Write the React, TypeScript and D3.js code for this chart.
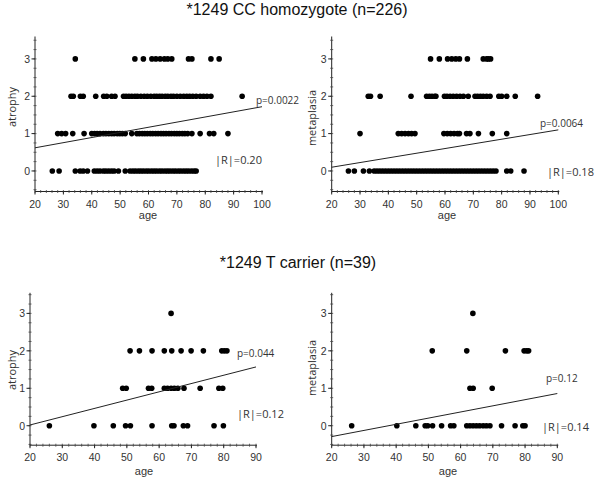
import React from "react";
import * as d3 from "d3";

// ---- Data (ages, grouped by score level) ----
const titles = ["*1249 CC homozygote (n=226)", "*1249 T carrier (n=39)"];

// Top-left: CC homozygote, atrophy
const ccAtrophy3 = [34.2, 55.2, 58.2, 61.2, 62.6, 64.1, 65.6, 66.8, 68.2, 74.1, 75.3, 82, 84.9];
const ccAtrophy2 = [32.7, 33.5, 36, 37, 41.4, 44.2, 45.3, 47, 48.2, 51.2, 52.1, 53.1, 54.1, 55.2, 56.1, 57.3, 58.5, 59.6, 60.8, 62, 62.9, 63.9, 64.8, 65.9, 66.8, 67.9, 68.8, 70, 71.2, 72.4, 73.5, 74.5, 75.6, 76.8, 78.2, 79.4, 80.6, 82, 93];
const ccAtrophy1 = [28, 29.4, 30.8, 33.3, 37.3, 40, 41, 41.9, 42.9, 44.1, 45, 46, 47, 47.9, 49, 49.9, 50.8, 51.8, 54.1, 55.9, 56.8, 57.8, 58.7, 59.6, 60.6, 61.5, 62.5, 63.4, 64.4, 65.3, 66.2, 67.2, 68.1, 69.1, 70, 70.9, 71.9, 72.8, 73.8, 75.3, 78.2, 81.5, 83, 88];
const ccAtrophy0 = [26.1, 28.5, 34.2, 35.9, 37, 38.5, 40.9, 41.9, 42.9, 44.1, 45, 46, 47, 47.9, 49.4, 51.8, 53.5, 54.5, 55.4, 56.4, 57.3, 58.2, 59.2, 60.1, 61.1, 62, 62.9, 63.9, 64.8, 65.8, 66.7, 67.6, 68.6, 69.5, 70.5, 71.4, 72.4, 73.3, 74.2, 75.2, 76.1, 76.8];

// Top-right: CC homozygote, metaplasia
const ccMeta3 = [54.9, 58, 60.9, 62.4, 63.8, 65.1, 67.9, 73.5, 74.7, 75.3, 76.1];
const ccMeta2 = [32.9, 33.7, 37.1, 48, 53.5, 54.5, 55.4, 56.4, 56.8, 59.8, 60.7, 61.8, 62.9, 64.1, 65.3, 66.5, 68.2, 70.6, 71.5, 72.5, 73.5, 74.7, 75.9, 79, 80, 81.8, 84.8, 92.7];
const ccMeta1 = [30, 43.5, 44.7, 45.9, 47.1, 48.2, 49.4, 59.6, 60.8, 62, 63.2, 64.4, 65.1, 67.6, 68.8, 71.8, 76.7, 81.8];
const ccMeta0 = [25.9, 28, 31.2, 33.3, 35, 36, 37, 38, 39, 40, 41, 42, 43, 44, 45, 46, 47, 48, 49, 50, 51, 52, 53, 54, 55, 56, 57, 58, 59, 60, 61, 62, 63, 64, 65, 66, 67, 68, 69, 70, 71, 72, 73, 74, 75, 76, 77, 78, 81.8, 83.2, 87.9];

// Bottom-left: T carrier, atrophy
const tAtrophy3 = [63.7];
const tAtrophy2 = [51, 53.9, 57.8, 61.6, 63.9, 66.8, 69.9, 73.7, 79.4, 80.2, 81];
const tAtrophy1 = [48.7, 49.8, 56.7, 57.7, 61.6, 62.6, 63.7, 64.7, 65.8, 67.7, 72.7, 78.5, 79.7];
const tAtrophy0 = [26, 39.8, 45.8, 49.6, 51.1, 57.8, 63.9, 64.6, 67.5, 68.8, 77, 79.9];

// Bottom-right: T carrier, metaplasia
const tMeta3 = [63.8];
const tMeta2 = [51.2, 61.9, 73.9, 79.7, 80.5, 81.1];
const tMeta1 = [62.9, 63.9, 69.8];
const tMeta0 = [26.2, 40.2, 46.1, 49, 49.8, 51.3, 54.1, 56.9, 57.9, 61.9, 62.9, 63.9, 64.9, 65.9, 67, 68, 69.1, 72.7, 76.9, 79.3, 80];

// Regression line end values [y at xMin, y at xMax]
const regLines = [[0.62, 1.72], [0.1, 1.1], [0.02, 1.57], [-0.29, 0.86]];
const pLabels = ["p=0.0022", "p=0.0064", "p=0.044", "p=0.12"];
const rLabels = ["|R|=0.20", "|R|=0.18", "|R|=0.12", "|R|=0.14"];
const yLabels = ["atrophy", "metaplasia", "atrophy", "metaplasia"];
const xTicksTop = [20, 30, 40, 50, 60, 70, 80, 90, 100];
const xTicksBottom = [20, 30, 40, 50, 60, 70, 80, 90];
const yTicks = [0, 1, 2, 3];

type Panel = {
  levels: number[][];
  xDomain: [number, number];
  xRange: [number, number];
  yDomain: [number, number];
  yRange: [number, number];
  xTicks: number[];
  reg: number[];
  p: string;
  r: string;
  pPos: [number, number];
  rPos: [number, number];
  yLabel: string;
  yLabelPos: [number, number];
  xLabelPos: [number, number];
};

const panels: Panel[] = [
  {
    levels: [ccAtrophy0, ccAtrophy1, ccAtrophy2, ccAtrophy3],
    xDomain: [20, 100], xRange: [35, 262], yDomain: [-0.55, 3.6], yRange: [191.5, 36.5],
    xTicks: xTicksTop, reg: regLines[0], p: pLabels[0], r: rLabels[0],
    pPos: [256, 104], rPos: [215, 164], yLabel: yLabels[0], yLabelPos: [16, 107], xLabelPos: [148, 219],
  },
  {
    levels: [ccMeta0, ccMeta1, ccMeta2, ccMeta3],
    xDomain: [20, 100], xRange: [331.7, 558.3], yDomain: [-0.55, 3.6], yRange: [191.5, 36.5],
    xTicks: xTicksTop, reg: regLines[1], p: pLabels[1], r: rLabels[1],
    pPos: [540, 127], rPos: [547, 176], yLabel: yLabels[1], yLabelPos: [316, 118], xLabelPos: [447, 219],
  },
  {
    levels: [tAtrophy0, tAtrophy1, tAtrophy2, tAtrophy3],
    xDomain: [20, 90], xRange: [30, 256], yDomain: [-0.52, 3.55], yRange: [445.2, 292.8],
    xTicks: xTicksBottom, reg: regLines[2], p: pLabels[2], r: rLabels[2],
    pPos: [237, 357], rPos: [237, 418], yLabel: yLabels[2], yLabelPos: [16, 370], xLabelPos: [144, 475],
  },
  {
    levels: [tMeta0, tMeta1, tMeta2, tMeta3],
    xDomain: [20, 90], xRange: [331.7, 557.3], yDomain: [-0.52, 3.55], yRange: [445.2, 292.8],
    xTicks: xTicksBottom, reg: regLines[3], p: pLabels[3], r: rLabels[3],
    pPos: [546, 382], rPos: [542, 431], yLabel: yLabels[3], yLabelPos: [316, 368], xLabelPos: [448, 475],
  },
];

const FONT = "'Open Sans', 'Liberation Sans', sans-serif";
const AXFONT = "'Liberation Sans', Arial, sans-serif";
const TXT = "#333";

function PanelView({ p }: { p: Panel }) {
  const x = d3.scaleLinear().domain(p.xDomain).range(p.xRange);
  const y = d3.scaleLinear().domain(p.yDomain).range(p.yRange);
  const x0 = p.xRange[0];
  const yBase = p.yRange[0];
  const xEnd = x(p.xDomain[1]) + 1;
  const minorX = d3.range(p.xDomain[0], p.xDomain[1] + 0.001, 2);
  const minorY = d3.range(-0.5, 3.55, 0.25);
  const line = d3.line<[number, number]>().x((d) => x(d[0])).y((d) => y(d[1]));
  const regPts: [number, number][] = [
    [p.xDomain[0], p.reg[0]],
    [p.xDomain[1], p.reg[1]],
  ];
  return (
    <g>
      {/* axes */}
      <line x1={x0} x2={x0} y1={p.yRange[1]} y2={yBase} stroke="#222" strokeWidth={1} />
      <line x1={x0} x2={xEnd} y1={yBase} y2={yBase} stroke="#222" strokeWidth={1} />
      {minorX.map((v) => (
        <line key={"mx" + v} x1={x(v)} x2={x(v)} y1={yBase - 1.5} y2={yBase + 1.5} stroke="#444" strokeWidth={0.8} />
      ))}
      {p.xTicks.map((v) => (
        <g key={"xt" + v}>
          <line x1={x(v)} x2={x(v)} y1={yBase} y2={yBase + 3} stroke="#222" />
          <text x={x(v)} y={yBase + 16} textAnchor="middle" fontFamily={AXFONT} fontSize={10.5} fill={TXT}>
            {v}
          </text>
        </g>
      ))}
      {minorY.map((v) => (
        <line key={"my" + v} x1={x0 - 1.5} x2={x0 + 1.5} y1={y(v)} y2={y(v)} stroke="#444" strokeWidth={0.8} />
      ))}
      {yTicks.map((v) => (
        <g key={"yt" + v}>
          <line x1={x0 - 3.5} x2={x0} y1={y(v)} y2={y(v)} stroke="#222" />
          <text x={x0 - 5} y={y(v) + 3.8} textAnchor="end" fontFamily={AXFONT} fontSize={10.5} fill={TXT}>
            {v}
          </text>
        </g>
      ))}
      <text x={p.xLabelPos[0]} y={p.xLabelPos[1]} textAnchor="middle" fontFamily={AXFONT} fontSize={11} fill={TXT}>
        age
      </text>
      <text
        transform={`translate(${p.yLabelPos[0]},${p.yLabelPos[1]}) rotate(-90)`}
        textAnchor="middle"
        fontFamily={FONT}
        fontSize={11}
        fill={TXT}
      >
        {p.yLabel}
      </text>
      {/* points */}
      {p.levels.map((ages, lvl) =>
        ages.map((a, i) => <circle key={`${lvl}-${i}`} cx={x(a)} cy={y(lvl)} r={2.8} fill="#000" />)
      )}
      {/* regression line */}
      <path d={line(regPts) || ""} stroke="#222" strokeWidth={1} fill="none" />
      <text x={p.pPos[0]} y={p.pPos[1]} fontFamily={FONT} fontSize={10} fill={TXT}>
        {p.p}
      </text>
      <text x={p.rPos[0]} y={p.rPos[1]} fontFamily={FONT} fontSize={11} fill={TXT}>
        {p.r}
      </text>
    </g>
  );
}

export default function App() {
  return (
    <svg
      width={600}
      height={479}
      viewBox="0 0 600 479"
      style={{ position: "absolute", left: 0, top: 0, background: "#fff" }}
    >
      <rect width={600} height={479} fill="#fff" />
      <text x={297} y={15} textAnchor="middle" fontFamily="'Liberation Sans', Arial, sans-serif" fontSize={16} fill="#111">
        {titles[0]}
      </text>
      <text x={298} y={268} textAnchor="middle" fontFamily="'Liberation Sans', Arial, sans-serif" fontSize={16} fill="#111">
        {titles[1]}
      </text>
      {panels.map((p, i) => (
        <PanelView key={i} p={p} />
      ))}
    </svg>
  );
}
